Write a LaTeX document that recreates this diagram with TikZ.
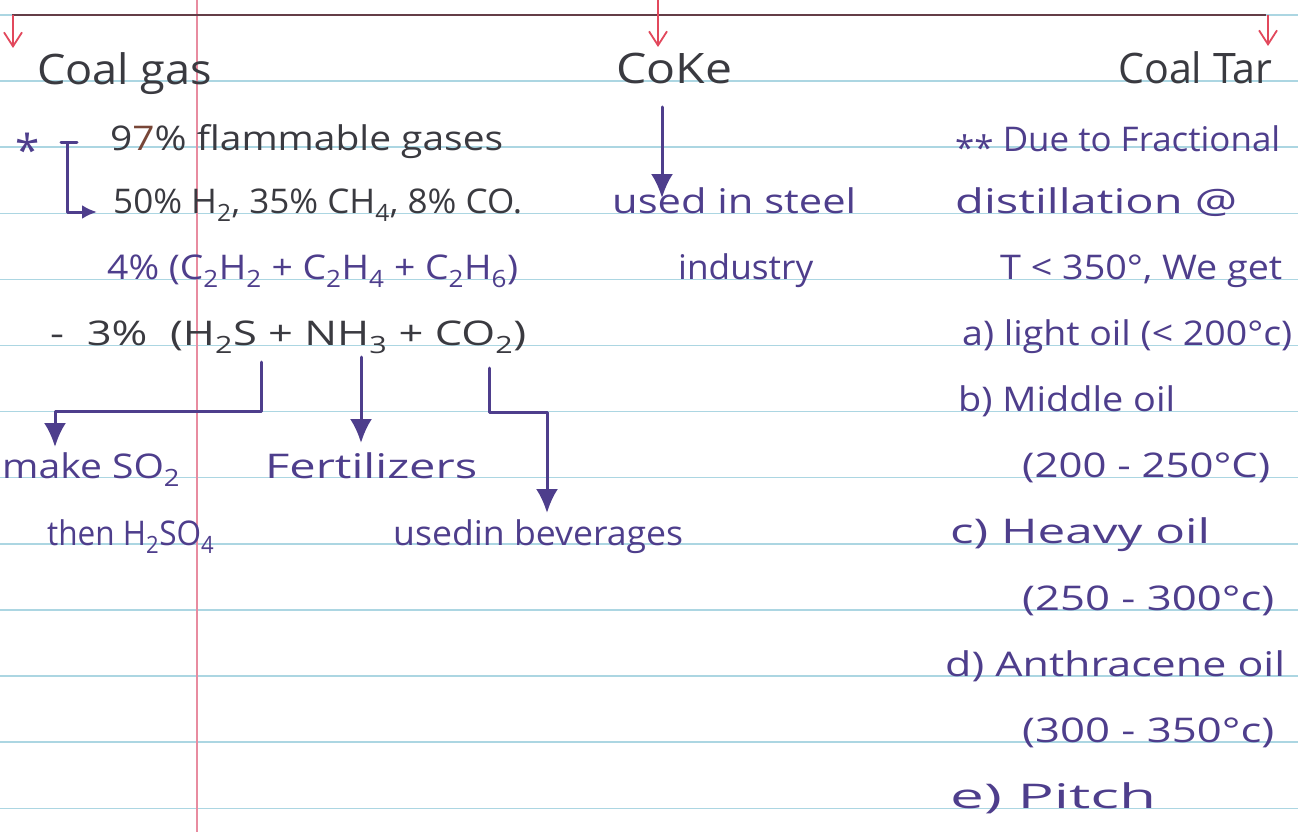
\documentclass[tikz,border=0pt]{standalone}
\usepackage{graphicx}
\usepackage{fontspec}
\setmainfont{Open Sans}
\usetikzlibrary{arrows.meta}

\definecolor{ink}{RGB}{78,62,140}
\definecolor{graphite}{RGB}{58,58,64}
\definecolor{ruleblue}{RGB}{172,214,226}
\definecolor{marginred}{RGB}{232,140,160}
\definecolor{redpen}{RGB}{226,72,92}
\definecolor{brownpen}{RGB}{120,70,55}

% stretch a line of writing horizontally to a given width (in pt)
\newcommand{\hw}[2]{\resizebox{#1pt}{\height}{#2}}
\newcommand{\sbs}[1]{\textsubscript{#1}}

\tikzset{
  pencil/.style={text=graphite, font=\fontsize{42}{48}\selectfont, anchor=base west, inner sep=0pt},
  pentext/.style={text=graphite, font=\fontsize{34}{40}\selectfont, anchor=base west, inner sep=0pt},
  inktext/.style={text=ink, font=\fontsize{34}{40}\selectfont, anchor=base west, inner sep=0pt},
  inkline/.style={draw=ink, line width=3pt, line cap=round, line join=round},
  inkarrow/.style={inkline, -{Latex[length=24pt,width=22pt]}},
  smallinkarrow/.style={inkline, -{Latex[length=15pt,width=14pt]}},
  redarrow/.style={draw=redpen, line width=1.8pt, -{Straight Barb[length=14pt,width=18pt]}},
}

\begin{document}
\begin{tikzpicture}[x=1pt,y=-1pt]
% notebook page
\fill[white] (0,0) rectangle (1298,832);
\useasboundingbox (0,0) rectangle (1298,832);
\foreach \k in {0,...,12}
  \draw[ruleblue, line width=1.4pt] (0,{15+66.1*\k}) -- (1298,{15+66.1*\k});
\draw[marginred, line width=2.6pt] (197,0) -- (197,832);

% top branch line with its three red arrows
\coordinate (lineL) at (12,15);
\coordinate (lineR) at (1266,15);
\draw[graphite!75!redpen, line width=1.6pt] (lineL) -- (lineR);
\coordinate (gasFrom) at (13,15);   \coordinate (gasTo) at (13,48);
\coordinate (cokeFrom) at (658,0);  \coordinate (cokeTo) at (658,47);
\coordinate (tarFrom) at (1268,15); \coordinate (tarTo) at (1268,46);
\draw[redarrow] (gasFrom) -- (gasTo);
\draw[redarrow] (cokeFrom) -- (cokeTo);
\draw[redarrow] (tarFrom) -- (tarTo);

% ---------- coal gas ----------
\node[pencil] (coalgas) at (37,85) {\hw{175}{Coal gas}};
\node[text=ink, anchor=base, inner sep=0pt, font=\fontsize{44}{44}\selectfont] (star) at (28,166) {*};
\node[pentext] (flam) at (110,150) {\hw{393}{9{\color{brownpen}7}\% flammable gases}};
\node[pentext] (comp) at (113,213) {\hw{409}{50\% H\sbs{2}, 35\% CH\sbs{4}, 8\% CO.}};
\node[inktext] (hydro) at (107,279) {\hw{411}{4\% (C\sbs{2}H\sbs{2} + C\sbs{2}H\sbs{4} + C\sbs{2}H\sbs{6})}};
\node[pentext] (impur) at (50,345) {\hw{476}{-\ \ 3\% \ (H\sbs{2}S + NH\sbs{3} + CO\sbs{2})}};

% bracket from the flammable share to its make-up
\coordinate (brL) at (61,143);
\coordinate (brR) at (77,143);
\coordinate (brTop) at (67,143);
\draw[inkline] (brL) -- (brR);
\draw[smallinkarrow] (brTop) |- ([xshift=-16pt,yshift=1pt]comp.base west);

% uses of the impurities
\node[inktext] (so2) at (2,478) {\hw{178}{make SO\sbs{2}}};
\node[inktext] (h2so4) at (47,545) {\hw{167}{then H\sbs{2}SO\sbs{4}}};
\node[inktext] (fert) at (265,478) {\hw{212}{Fertilizers}};
\node[inktext] (bev) at (393,545) {\hw{290}{usedin beverages}};

\coordinate (h2sFoot) at (261,362);
\coordinate (h2sCorner) at (55,411);
\coordinate (so2Tip) at (55,447);
\draw[inkarrow] (h2sFoot) |- (h2sCorner) -- (so2Tip);

\coordinate (nh3Foot) at (361,357);
\coordinate (fertTip) at (361,443);
\draw[inkarrow] (nh3Foot) -- (fertTip);

\coordinate (co2Foot) at (489,368);
\coordinate (co2Corner) at (547,412);
\coordinate (bevTip) at (547,513);
\draw[inkarrow] (co2Foot) |- (co2Corner) -- (bevTip);

% ---------- coke ----------
\node[pencil] (coke) at (616,84) {\hw{116}{CoKe}};
\node[inktext] (steel) at (612,213) {\hw{244}{used in steel}};
\node[inktext] (industry) at (678,279) {\hw{135}{industry}};
\coordinate (cokeFoot) at (662,107);
\coordinate (steelTip) at (662,198);
\draw[inkarrow] (cokeFoot) -- (steelTip);

% ---------- coal tar ----------
\node[pencil] (coaltar) at (1118,84) {\hw{154}{Coal Tar}};
\node[inktext] (due) at (955,152) {\hw{325}{\raisebox{-.25em}{**} Due to Fractional}};
\node[inktext] (dist) at (955,213) {\hw{282}{distillation @}};
\node[inktext] (temp) at (1000,279) {\hw{282}{T < 350°, We get}};
\node[inktext] (oilA) at (962,345) {\hw{330}{a) light oil (< 200°c)}};
\node[inktext] (oilB) at (958,411) {\hw{217}{b) Middle oil}};
\node[inktext] (oilBt) at (1022,477) {\hw{248}{(200 - 250°C)}};
\node[inktext] (oilC) at (950,543) {\hw{260}{c) Heavy oil}};
\node[inktext] (oilCt) at (1022,610) {\hw{252}{(250 - 300°c)}};
\node[inktext] (oilD) at (945,676) {\hw{340}{d) Anthracene oil}};
\node[inktext] (oilDt) at (1022,742) {\hw{252}{(300 - 350°c)}};
\node[inktext] (oilE) at (950,808) {\hw{206}{e) Pitch}};
\end{tikzpicture}
\end{document}
